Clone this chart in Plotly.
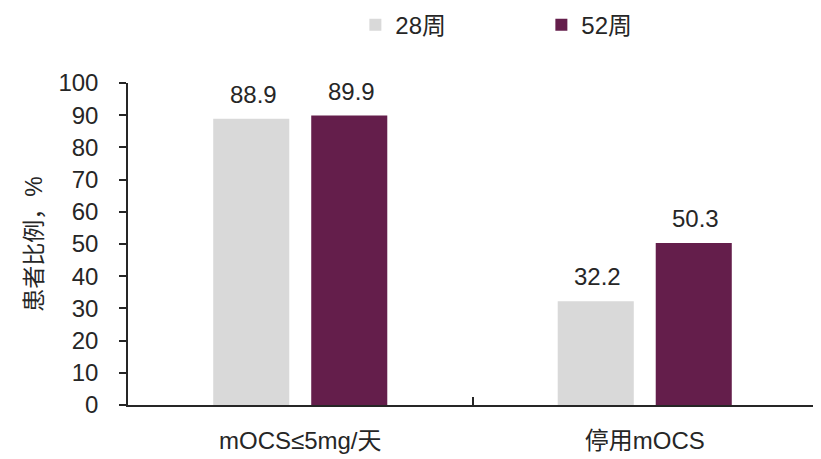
import plotly.graph_objects as go

categories = ["mOCS≤5mg/天", "停用mOCS"]
series_names = ["28周", "52周"]
values_28 = [88.9, 32.2]
values_52 = [89.9, 50.3]
colors = ["#D9D9D9", "#641E4B"]
y_ticks = list(range(0, 101, 10))

FONT = "Liberation Sans, Arial, Noto Sans CJK SC, sans-serif"
FS = 24
TXT = "#262626"

fig = go.Figure()
for name, vals, col in zip(series_names, [values_28, values_52], colors):
    fig.add_trace(go.Bar(x=categories, y=vals, name=name, marker=dict(color=col, line=dict(width=0))))

annotations = []
for vals, shift in [(values_28, -47), (values_52, 51)]:
    for c, v in zip(categories, vals):
        annotations.append(dict(x=c, y=v, text=f"{v:.1f}", showarrow=False, xref="x", yref="y",
                                yanchor="bottom", xanchor="center", xshift=shift, yshift=9,
                                font=dict(size=FS, color=TXT, family=FONT)))

# page has an 8px body margin, so the figure is shrunk by 8px and shifted
fig.update_layout(
    width=813, height=451,
    margin=dict(l=120, r=4, t=75, b=54, autoexpand=False),
    paper_bgcolor="white", plot_bgcolor="white",
    barmode="group", bargap=0.431, bargroupgap=0.224,
    font=dict(family=FONT, size=FS, color=TXT),
    showlegend=True,
    legend=dict(orientation="h", x=0.33, xanchor="left", y=0.962, yanchor="middle",
                yref="container", font=dict(size=FS, color=TXT), entrywidth=141,
                traceorder="normal"),
    annotations=annotations,
    xaxis=dict(showline=True, linecolor=TXT, linewidth=1.5, ticks="inside", tickson="boundaries",
               ticklen=8, tickwidth=1.5, tickcolor=TXT, showgrid=False, ticklabelstandoff=13,
               tickfont=dict(size=FS), automargin=False),
    yaxis=dict(range=[0, 100], tickvals=y_ticks, showline=True, linecolor=TXT, linewidth=1.5,
               ticks="outside", ticklen=7, tickwidth=1.5, tickcolor=TXT, showgrid=False,
               zeroline=False, ticklabelstandoff=16, tickfont=dict(size=FS), automargin=False,
               title=dict(text="患者比例，%", font=dict(size=23), standoff=9)),
)

fig.write_html("out.html")
